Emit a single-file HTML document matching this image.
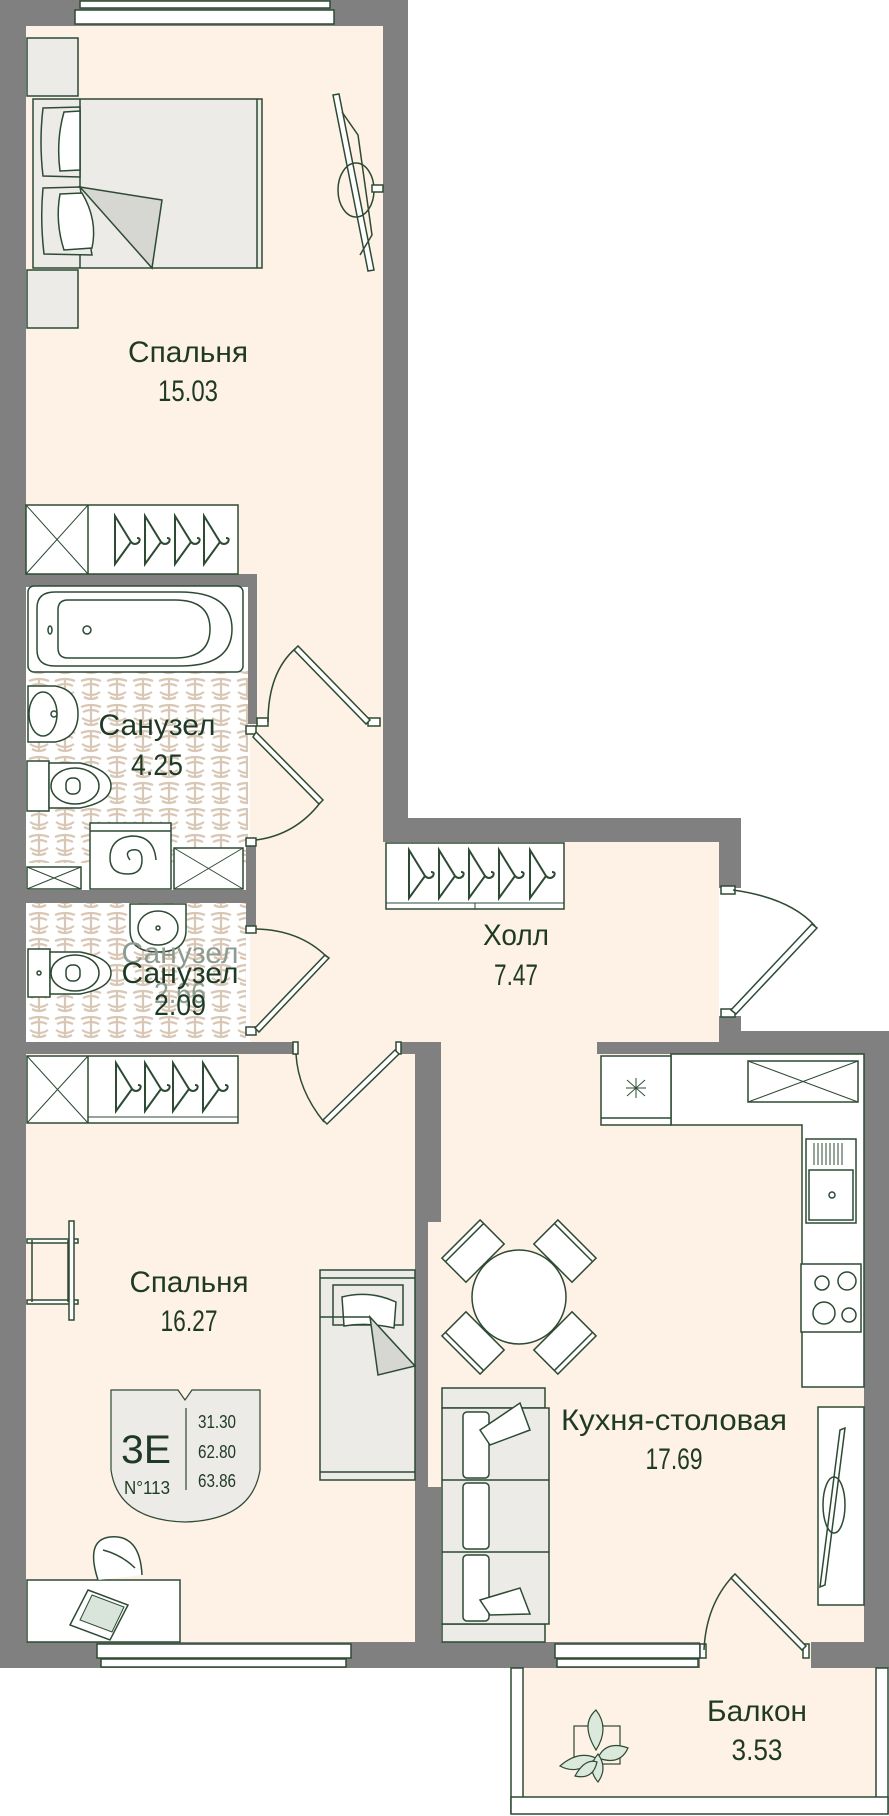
<!DOCTYPE html>
<html><head><meta charset="utf-8"><style>
html,body{margin:0;padding:0;background:#fff}
svg{display:block}
text{font-family:"Liberation Sans",sans-serif;fill:#1e3a24;text-anchor:middle}
</style></head><body>
<svg width="889" height="1816" viewBox="0 0 889 1816" xmlns="http://www.w3.org/2000/svg">
<defs>
<pattern id="tile" width="26" height="26" patternUnits="userSpaceOnUse">
<rect width="26" height="26" fill="#fff"/>
<path d="M3 5 q10 -4 20 0 M5 10 q8 -4 16 0 M4 16 q9 6 18 0 M6 21 q7 4 14 0 M13 4 v18" stroke="#d9c7b6" stroke-width="2.2" fill="none"/>
</pattern>
<g id="hanger" fill="none" stroke="#2d4a34" stroke-width="2"><path d="M0 0 L0 48 L16 26 Z"/><path d="M16 26 q4 4 8 0 q2 -4 -2 -4"/></g>
</defs>
<g fill="#fef1e5">
<rect x="26" y="26" width="357" height="548"/>
<rect x="250" y="574" width="145" height="480"/>
<rect x="383" y="842" width="336" height="212"/>
<rect x="26" y="1054" width="389" height="588"/>
<rect x="428" y="1054" width="436" height="590"/>
<rect x="700" y="1640" width="111" height="30"/>
<rect x="520" y="1668" width="358" height="135"/>
</g>
<rect x="26" y="671" width="222" height="192" fill="url(#tile)"/>
<rect x="26" y="903" width="220" height="139" fill="url(#tile)"/>
<g fill="#808080">
<rect x="0" y="0" width="408" height="26"/>
<rect x="0" y="0" width="26" height="1668"/>
<rect x="383" y="0" width="25" height="842"/>
<rect x="383" y="818" width="358" height="24"/>
<rect x="719" y="818" width="22" height="70"/>
<rect x="719" y="1016" width="22" height="38"/>
<rect x="719" y="1031" width="170" height="23"/>
<rect x="597" y="1042" width="122" height="12"/>
<rect x="864" y="1031" width="25" height="637"/>
<rect x="0" y="1642" width="700" height="26"/>
<rect x="811" y="1642" width="78" height="26"/>
<rect x="0" y="1042" width="295" height="12"/>
<rect x="400" y="1042" width="41" height="12"/>
<rect x="415" y="1042" width="26" height="180"/>
<rect x="415" y="1222" width="13" height="265"/>
<rect x="415" y="1487" width="26" height="160"/>
<rect x="26" y="574" width="231" height="13"/>
<rect x="248" y="574" width="9" height="150"/>
<rect x="246" y="845" width="10" height="82"/>
<rect x="26" y="890" width="230" height="13"/>
</g>
<g fill="#fff" stroke="#2d4a34" stroke-width="1.5">
<rect x="80" y="1" width="250" height="7"/><rect x="75" y="10" width="259" height="14"/>
<rect x="97" y="1644" width="254" height="14"/><rect x="101" y="1659" width="245" height="8"/>
<rect x="555" y="1644" width="145" height="14"/><rect x="557" y="1659" width="141" height="8"/>
<rect x="511" y="1668" width="12" height="145"/><rect x="876" y="1668" width="12" height="145"/>
<rect x="511" y="1797" width="377" height="17"/>
</g>
<!-- bedroom1 furniture -->
<g stroke="#2d4a34" stroke-width="1.5">
<rect x="27" y="38" width="51" height="58" fill="#ecebe8"/>
<rect x="27" y="270" width="51" height="58" fill="#ecebe8"/>
<rect x="33" y="99" width="229" height="169" fill="#ecebe8"/>
<line x1="80" y1="99" x2="80" y2="268"/><line x1="257" y1="99" x2="257" y2="268"/>
<path d="M43 108 L80 107 L80 177 L43 176 Q39 142 43 108Z" fill="#ecebe8"/>
<path d="M43 188 L80 187 L92 255 L44 254 Q40 220 43 188Z" fill="#ecebe8"/>
<path d="M64 112 L80 111 L80 170 L60 171 Q56 140 64 112Z" fill="#fff"/>
<path d="M60 194 L82 193 Q98 220 92 248 L64 250 Q55 222 60 194Z" fill="#fff"/>
<path d="M80 187 L162 200 L152 268 Z" fill="#d6d6d3"/>
<path d="M333 95 L339 94 L374 270 L368 271 Z" fill="#fff"/>
<path d="M342 112 L358 135 L372 235 L360 255" fill="none"/>
<ellipse cx="356" cy="190" rx="18" ry="27" fill="none"/>
<rect x="372" y="185" width="11" height="7" fill="#fff"/>
<rect x="26" y="505" width="212" height="69" fill="#fff"/>
<line x1="88" y1="505" x2="88" y2="574"/><path d="M26 505 L88 574 M88 505 L26 574" stroke-width="1"/>
</g>
<use href="#hanger" x="115" y="516"/><use href="#hanger" x="145" y="516"/><use href="#hanger" x="175" y="516"/><use href="#hanger" x="204" y="516"/>
<!-- hall wardrobe -->
<g stroke="#2d4a34" stroke-width="1.5" fill="#fff">
<rect x="386" y="843" width="178" height="66"/>
<line x1="386" y1="903" x2="564" y2="903" stroke-width="1"/>
<line x1="475" y1="903" x2="475" y2="909" stroke-width="1"/>
</g>
<use href="#hanger" x="409" y="850"/><use href="#hanger" x="439" y="850"/><use href="#hanger" x="469" y="850"/><use href="#hanger" x="499" y="850"/><use href="#hanger" x="530" y="850"/>
<!-- bathroom1 -->
<g stroke="#2d4a34" stroke-width="1.5" fill="#fff">
<rect x="28" y="586" width="215" height="86" rx="6"/>
<path d="M55 592 H180 Q232 592 232 629 Q232 666 180 666 H55 Q37 666 37 650 V608 Q37 592 55 592Z"/>
<path d="M68 600 H175 Q210 600 210 629 Q210 658 175 658 H68 Q58 658 58 648 V610 Q58 600 68 600Z"/>
<ellipse cx="50" cy="630" rx="2" ry="4"/><ellipse cx="87" cy="630" rx="4" ry="4"/>
<path d="M28 686 H55 Q78 690 78 714 Q78 738 55 742 H28Z"/>
<ellipse cx="43" cy="714" rx="14" ry="22" fill="none"/><circle cx="54" cy="714" r="3"/>
<rect x="27" y="761" width="22" height="50"/>
<path d="M49 763 H80 Q111 770 111 786 Q111 802 80 808 H49Z"/>
<ellipse cx="75" cy="786" rx="24" ry="18"/>
<rect x="66" y="778" width="14" height="16" rx="6"/>
<rect x="90" y="823" width="81" height="66"/>
<line x1="90" y1="831" x2="171" y2="831"/>
<path d="M130 860 q-6 -8 2 -10 q10 -2 10 10 q0 14 -14 14 q-18 0 -18 -16 q0 -20 22 -22 q22 0 24 24" fill="none"/>
<rect x="174" y="848" width="69" height="41"/><path d="M174 848 L243 889 M243 848 L174 889" stroke-width="1"/>
<rect x="27" y="867" width="54" height="22"/><path d="M27 867 L81 889 M81 867 L27 889" stroke-width="1"/>
</g>
<!-- bathroom2 -->
<g stroke="#2d4a34" stroke-width="1.5" fill="#fff">
<path d="M130 904 H186 V930 Q186 952 158 952 Q130 952 130 930Z"/>
<ellipse cx="158" cy="928" rx="20" ry="17" fill="none"/><circle cx="158" cy="928" r="2"/>
<rect x="28" y="949" width="22" height="48"/>
<path d="M50 952 H80 Q111 958 111 973 Q111 988 80 994 H50Z"/>
<ellipse cx="75" cy="973" rx="24" ry="18"/>
<rect x="66" y="965" width="14" height="16" rx="6"/>
<circle cx="39" cy="973" r="2"/>
</g>
<!-- doors -->
<g stroke="#2d4a34" stroke-width="1.5" fill="none">
<rect x="257" y="718" width="11" height="8" fill="#fff"/><rect x="368" y="718" width="12" height="8" fill="#fff"/>
<path d="M370 720 L298 646 L294 650 L366 724Z" fill="#fff"/>
<path d="M268 722 Q268 672 296 648"/>
<rect x="246" y="726" width="10" height="8" fill="#fff"/><rect x="246" y="838" width="10" height="8" fill="#fff"/>
<path d="M256 732 L323 800 L319 804 L253 737Z" fill="#fff"/>
<path d="M320 803 Q295 835 256 840"/>
<rect x="246" y="926" width="10" height="7" fill="#fff"/><rect x="246" y="1027" width="10" height="8" fill="#fff"/>
<path d="M255 1028 L325 955 L329 958 L259 1032Z" fill="#fff"/>
<path d="M327 957 Q300 930 256 929"/>
<rect x="293" y="1042" width="5" height="12" fill="#fff"/><rect x="396" y="1042" width="5" height="12" fill="#fff"/>
<path d="M399 1054 L327 1124 L323 1120 L395 1050Z" fill="#fff"/>
<path d="M324 1122 Q298 1090 296 1054"/>
<rect x="721" y="886" width="14" height="8" fill="#fff"/><rect x="721" y="1009" width="14" height="8" fill="#fff"/>
<path d="M731 1010 L812 924 L817 928 L736 1014Z" fill="#fff"/>
<path d="M815 926 Q790 898 733 890"/>
<rect x="700" y="1644" width="6" height="14" fill="#fff"/><rect x="803" y="1644" width="6" height="14" fill="#fff"/>
<path d="M806 1646 L735 1574 L731 1578 L802 1650Z" fill="#fff"/>
<path d="M733 1576 Q706 1605 704 1650"/>
</g>
<!-- bedroom2 -->
<g stroke="#2d4a34" stroke-width="1.5">
<rect x="27" y="1056" width="211" height="67" fill="#fff"/>
<line x1="88" y1="1056" x2="88" y2="1123"/><path d="M27 1056 L88 1123 M88 1056 L27 1123" stroke-width="1"/>
<line x1="88" y1="1117" x2="238" y2="1117" stroke-width="1"/>
<rect x="27" y="1239" width="51" height="4" fill="#fff"/><rect x="27" y="1300" width="51" height="4" fill="#fff"/>
<line x1="32" y1="1240" x2="32" y2="1302"/><line x1="68" y1="1240" x2="68" y2="1302"/>
<rect x="69" y="1221" width="5" height="99" fill="#fff"/>
<rect x="320" y="1270" width="95" height="210" fill="#ecebe8"/>
<line x1="320" y1="1278" x2="415" y2="1278"/><line x1="320" y1="1472" x2="415" y2="1472"/>
<rect x="333" y="1285" width="70" height="40" fill="#ecebe8"/>
<path d="M342 1297 Q370 1290 396 1302 L394 1328 Q368 1322 344 1326Z" fill="#fff"/>
<line x1="320" y1="1317" x2="370" y2="1317"/>
<path d="M370 1317 L415 1366 L378 1375 Z" fill="#d6d6d3"/>
<rect x="27" y="1580" width="153" height="62" fill="#fff"/>
<path d="M98 1580 Q85 1540 110 1537 Q140 1534 142 1575" fill="#fff"/>
<path d="M103 1550 Q122 1555 135 1568" fill="none"/>
<path d="M88 1590 L128 1605 L110 1640 L70 1625Z" fill="#fff"/>
<path d="M92 1595 L124 1607 L112 1632 L80 1620Z" fill="#d9e4da" stroke-width="1"/>
</g>
<use href="#hanger" x="116" y="1063"/><use href="#hanger" x="145" y="1063"/><use href="#hanger" x="173" y="1063"/><use href="#hanger" x="203" y="1063"/>
<!-- kitchen -->
<g stroke="#2d4a34" stroke-width="1.5" fill="#fff">
<path d="M671 1054 H864 V1387 H802 V1125 H671Z"/>
<rect x="601" y="1056" width="70" height="69"/><line x1="601" y1="1118" x2="671" y2="1118"/>
<path d="M636 1078 v20 M627 1080 l18 16 M645 1080 l-18 16 M626 1088 h20" stroke-width="1"/>
<rect x="748" y="1061" width="110" height="41"/><path d="M748 1061 L858 1102 M858 1061 L748 1102" stroke-width="1"/>
<rect x="806" y="1139" width="50" height="84"/><rect x="809" y="1170" width="44" height="50"/>
<path d="M814 1143 v22 M818 1143 v22 M822 1143 v22 M826 1143 v22 M830 1143 v22 M834 1143 v22 M838 1143 v22 M842 1143 v22" stroke-width="1"/>
<circle cx="832" cy="1195" r="3"/>
<rect x="801" y="1264" width="60" height="68"/>
<circle cx="822" cy="1283" r="7"/><circle cx="847" cy="1281" r="9"/><circle cx="824" cy="1313" r="11"/><circle cx="849" cy="1315" r="7"/>
<g transform="translate(519 1297)">
<g id="chr" transform="rotate(-45)"><rect x="-27" y="-82" width="54" height="34"/><line x1="-27" y1="-77" x2="27" y2="-77"/></g>
<use href="#chr" transform="rotate(90)"/><use href="#chr" transform="rotate(180)"/><use href="#chr" transform="rotate(270)"/>
<circle r="47"/>
</g>
<rect x="442" y="1388" width="103" height="20" fill="#ecebe8"/>
<rect x="442" y="1624" width="103" height="18" fill="#ecebe8"/>
<rect x="442" y="1408" width="107" height="216" fill="#ecebe8"/>
<line x1="442" y1="1480" x2="549" y2="1480"/><line x1="442" y1="1552" x2="549" y2="1552"/>
<rect x="463" y="1412" width="26" height="66" rx="4"/><rect x="463" y="1483" width="26" height="66" rx="4"/><rect x="463" y="1555" width="26" height="66" rx="4"/>
<path d="M480 1430 L520 1403 L530 1430 L490 1445Z"/>
<path d="M480 1600 L520 1588 L530 1614 L490 1615Z"/>
<rect x="818" y="1407" width="46" height="198"/>
<path d="M840 1430 L845 1428 L825 1585 L820 1587Z"/>
<ellipse cx="834" cy="1505" rx="11" ry="28" fill="none"/>
</g>
<!-- plant -->
<g stroke="#2d4a34" stroke-width="1.2" fill="#dbe8dc">
<rect x="574" y="1726" width="46" height="38" fill="none"/>
<path d="M596 1710 q-16 14 0 40 q14 -22 0 -40Z"/>
<path d="M560 1766 q18 -16 36 -8 q-18 18 -36 8Z"/>
<path d="M628 1748 q-22 -8 -30 10 q22 8 30 -10Z"/>
<path d="M598 1782 q-12 -14 0 -28 q10 14 0 28Z"/>
<path d="M575 1776 q10 -18 22 -14 q-4 18 -22 14Z"/>
</g>
<!-- badge -->
<path d="M111 1390 H178 L185 1400 L192 1390 H260 V1470 Q252 1520 185 1522 Q118 1520 111 1470Z" fill="#ecebe8" stroke="#2d4a34" stroke-width="1.2"/>
<line x1="186" y1="1408" x2="186" y2="1490" stroke="#2d4a34" stroke-width="1.2"/>
<text x="146" y="1463" style="font-size:40px" textLength="50" lengthAdjust="spacingAndGlyphs">3Е</text>
<text x="147" y="1494" style="font-size:18px" textLength="46" lengthAdjust="spacingAndGlyphs">N°113</text>
<text x="217" y="1428" style="font-size:18px" textLength="38" lengthAdjust="spacingAndGlyphs">31.30</text>
<text x="217" y="1458" style="font-size:18px" textLength="38" lengthAdjust="spacingAndGlyphs">62.80</text>
<text x="217" y="1487" style="font-size:18px" textLength="38" lengthAdjust="spacingAndGlyphs">63.86</text>
<!-- labels -->
<g style="font-size:30px">
<text x="188" y="362" textLength="120" lengthAdjust="spacingAndGlyphs">Спальня</text><text x="188" y="401" textLength="60" lengthAdjust="spacingAndGlyphs">15.03</text>
<text x="157" y="735" textLength="117" lengthAdjust="spacingAndGlyphs">Санузел</text><text x="157" y="775" textLength="52" lengthAdjust="spacingAndGlyphs">4.25</text>
<text x="180" y="963" style="fill:#8e9b90" textLength="117" lengthAdjust="spacingAndGlyphs">Санузел</text><text x="180" y="1003" style="fill:#8e9b90" textLength="52" lengthAdjust="spacingAndGlyphs">2.66</text>
<text x="180" y="983" textLength="117" lengthAdjust="spacingAndGlyphs">Санузел</text><text x="180" y="1015" textLength="52" lengthAdjust="spacingAndGlyphs">2.09</text>
<text x="516" y="945" textLength="66" lengthAdjust="spacingAndGlyphs">Холл</text><text x="516" y="985" textLength="44" lengthAdjust="spacingAndGlyphs">7.47</text>
<text x="189" y="1292" textLength="119" lengthAdjust="spacingAndGlyphs">Спальня</text><text x="189" y="1331" textLength="57" lengthAdjust="spacingAndGlyphs">16.27</text>
<text x="674" y="1430" textLength="226" lengthAdjust="spacingAndGlyphs">Кухня-столовая</text><text x="674" y="1469" textLength="57" lengthAdjust="spacingAndGlyphs">17.69</text>
<text x="757" y="1721" textLength="100" lengthAdjust="spacingAndGlyphs">Балкон</text><text x="757" y="1760" textLength="51" lengthAdjust="spacingAndGlyphs">3.53</text>
</g>
</svg>
</body></html>
